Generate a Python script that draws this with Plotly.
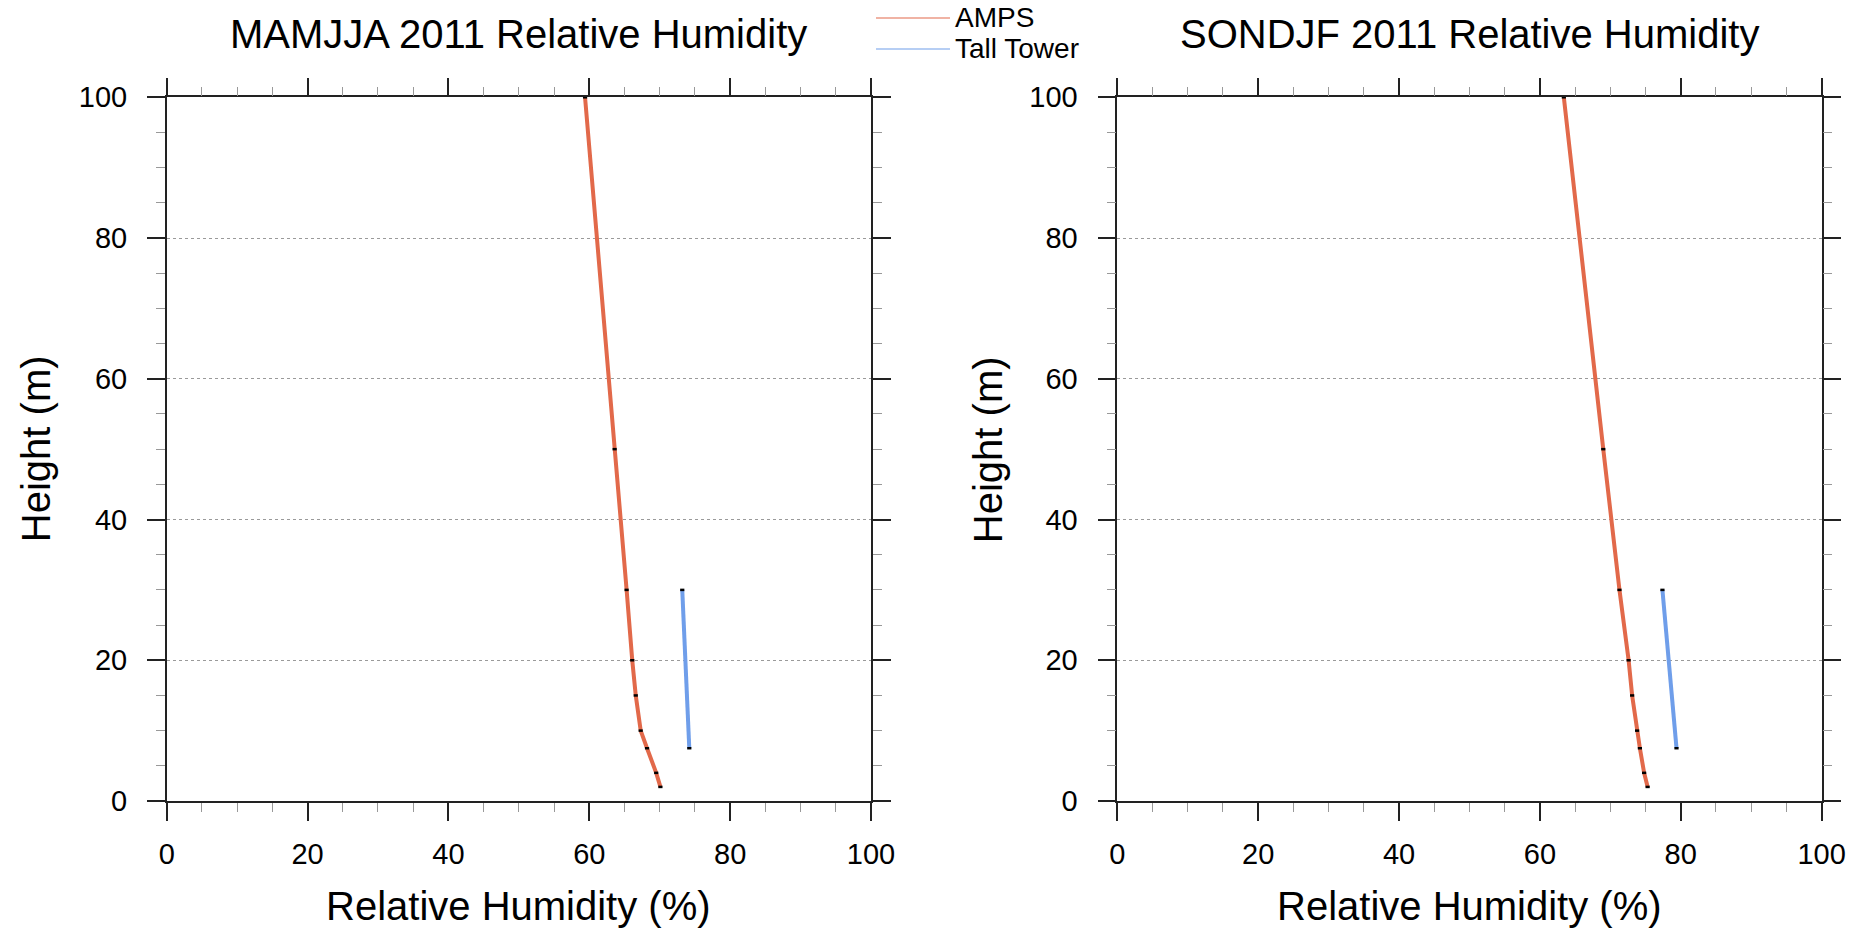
import plotly.graph_objects as go

# ---- data ----
amps_height = [2, 4, 7.5, 10, 15, 20, 30, 50, 100]
amps_rh_mamjja = [70.1, 69.5, 68.2, 67.3, 66.6, 66.1, 65.3, 63.6, 59.4]
amps_rh_sondjf = [75.3, 74.8, 74.2, 73.8, 73.1, 72.6, 71.3, 69.0, 63.4]
tower_height = [7.5, 30]
tower_rh_mamjja = [74.2, 73.2]
tower_rh_sondjf = [79.4, 77.4]
titles = ["MAMJJA 2011 Relative Humidity", "SONDJF 2011 Relative Humidity"]
series_names = ["AMPS", "Tall Tower"]
tick_vals = [0, 20, 40, 60, 80, 100]

RED = "#E2694A"
BLUE = "#6F9EEA"
FONT = "Liberation Sans, Arial, Helvetica, sans-serif"
W, H = 1866, 931

fig = go.Figure()

panels = [
    (amps_rh_mamjja, tower_rh_mamjja, "x", "y"),
    (amps_rh_sondjf, tower_rh_sondjf, "x2", "y2"),
]
for amps, tower, xa, ya in panels:
    fig.add_trace(go.Scatter(
        x=amps, y=amps_height, xaxis=xa, yaxis=ya, mode="lines",
        line=dict(color=RED, width=4), showlegend=False, cliponaxis=False))
    fig.add_trace(go.Scatter(
        x=tower, y=tower_height, xaxis=xa, yaxis=ya, mode="lines",
        line=dict(color=BLUE, width=4), showlegend=False, cliponaxis=False))
    fig.add_trace(go.Scatter(
        x=amps + tower, y=amps_height + tower_height, xaxis=xa, yaxis=ya,
        mode="markers",
        marker=dict(symbol="line-ew", size=3, line=dict(color="black", width=2.5)),
        showlegend=False, cliponaxis=False))

left_dom = [166.7 / W, 871.0 / W]
right_dom = [1117.3 / W, 1821.6 / W]
y_dom = [1 - 801.0 / H, 1 - 97.3 / H]

axis_common = dict(
    range=[0, 100], tickvals=tick_vals, ticks="outside", ticklen=18, tickwidth=1.5,
    tickcolor="#222", showline=True, linecolor="#222", linewidth=1.5, mirror="ticks",
    tickfont=dict(family=FONT, size=29, color="black"), zeroline=False, automargin=False,
    minor=dict(dtick=5, ticks="outside", ticklen=9, tickcolor="#999", tickwidth=1, showgrid=False),
)

xaxis = dict(axis_common, showgrid=False, ticklabelstandoff=8)
yaxis = dict(axis_common, showgrid=True, gridcolor="#9a9a9a", griddash="dot", gridwidth=1,
             ticklabelstandoff=14)

fig.update_layout(
    width=W, height=H, margin=dict(l=0, r=0, t=0, b=0, autoexpand=False),
    paper_bgcolor="white", plot_bgcolor="white",
    xaxis=dict(xaxis, domain=left_dom, anchor="y"),
    yaxis=dict(yaxis, domain=y_dom, anchor="x"),
    xaxis2=dict(xaxis, domain=right_dom, anchor="y2"),
    yaxis2=dict(yaxis, domain=y_dom, anchor="x2"),
    font=dict(family=FONT, color="black"),
)

ann = []
centers = [(left_dom[0] + left_dom[1]) / 2, (right_dom[0] + right_dom[1]) / 2]
for c, t in zip(centers, titles):
    ann.append(dict(text=t, x=c, y=1 - 34 / H, xref="paper", yref="paper",
                    showarrow=False, xanchor="center", yanchor="middle",
                    font=dict(family=FONT, size=40)))
    ann.append(dict(text="Relative Humidity (%)", x=c, y=1 - 906 / H, xref="paper", yref="paper",
                    showarrow=False, xanchor="center", yanchor="middle",
                    font=dict(family=FONT, size=40)))
for xpx in [36, 988]:
    ann.append(dict(text="Height (m)", x=xpx / W, y=(y_dom[0] + y_dom[1]) / 2,
                    xref="paper", yref="paper", showarrow=False, textangle=-90,
                    xanchor="center", yanchor="middle", font=dict(family=FONT, size=40)))

# legend (drawn manually, NCL style)
shapes = []
for name, col, ypx in zip(series_names, [RED, BLUE], [18, 49]):
    shapes.append(dict(type="line", xref="paper", yref="paper",
                       x0=876 / W, x1=950 / W, y0=1 - ypx / H, y1=1 - ypx / H,
                       line=dict(color=col, width=1.2)))
    ann.append(dict(text=name, x=953 / W, y=1 - ypx / H, xref="paper", yref="paper",
                    showarrow=False, xanchor="left", yanchor="middle",
                    font=dict(family=FONT, size=28)))

fig.update_layout(annotations=ann, shapes=shapes)
fig.write_html("out.html")
